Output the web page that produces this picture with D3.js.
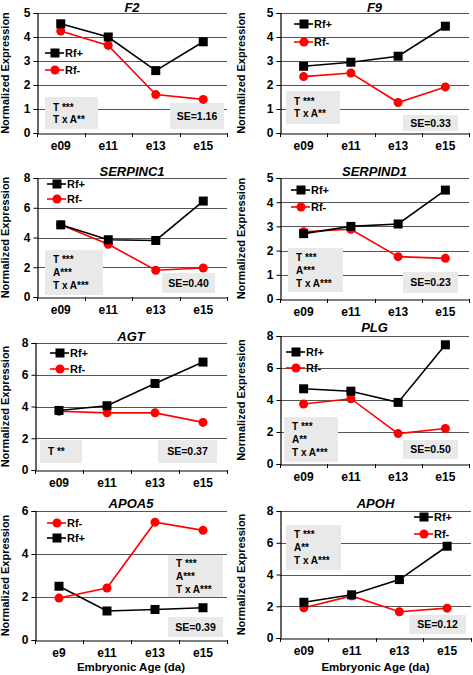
<!DOCTYPE html>
<html><head><meta charset="utf-8">
<script src="https://cdn.jsdelivr.net/npm/d3@7"></script>
<style>
html,body{margin:0;padding:0;background:#fff;}
svg{display:block;font-family:"Liberation Sans",Arial,sans-serif;}
</style></head>
<body>
<svg id="chart" width="473" height="675"></svg>
<script>
// ---- data ----
const categories = ["e09", "e11", "e13", "e15"];
const categoriesAPOA5 = ["e9", "e11", "e13", "e15"];
const seriesNames = ["Rf+", "Rf-"];

const f2RfPlus = [4.55, 4.0, 2.6, 3.8];
const f2RfMinus = [4.25, 3.65, 1.6, 1.4];
const f9RfPlus = [2.78, 2.95, 3.2, 4.45];
const f9RfMinus = [2.35, 2.5, 1.27, 1.92];
const serpinc1RfPlus = [4.85, 3.85, 3.8, 6.45];
const serpinc1RfMinus = [4.85, 3.55, 1.8, 1.95];
const serpind1RfPlus = [2.7, 3.0, 3.1, 4.5];
const serpind1RfMinus = [2.78, 2.88, 1.75, 1.68];
const agtRfPlus = [3.75, 4.05, 5.45, 6.8];
const agtRfMinus = [3.7, 3.6, 3.6, 3.0];
const plgRfPlus = [4.7, 4.55, 3.85, 7.45];
const plgRfMinus = [3.75, 4.08, 1.9, 2.22];
const apoa5RfPlus = [2.5, 1.35, 1.42, 1.5];
const apoa5RfMinus = [1.95, 2.42, 5.48, 5.1];
const apohRfPlus = [2.25, 2.72, 3.68, 5.78];
const apohRfMinus = [1.9, 2.65, 1.65, 1.88];

const ticks5 = [0, 1, 2, 3, 4, 5];
const ticks8 = [0, 2, 4, 6, 8];
const ticks6 = [0, 2, 4, 6];

const statsF2 = ["T ***", "T x A**"];
const statsF9 = ["T ***", "T x A**"];
const statsSERPINC1 = ["T ***", "A***", "T x A***"];
const statsSERPIND1 = ["T ***", "A***", "T x A***"];
const statsAGT = ["T **"];
const statsPLG = ["T ***", "A**", "T x A***"];
const statsAPOA5 = ["T ***", "A***", "T x A***"];
const statsAPOH = ["T ***", "A**", "T x A***"];

const seF2 = "SE=1.16", seF9 = "SE=0.33", seSERPINC1 = "SE=0.40", seSERPIND1 = "SE=0.23";
const seAGT = "SE=0.37", sePLG = "SE=0.50", seAPOA5 = "SE=0.39", seAPOH = "SE=0.12";

// ---- layout (positions/styles) ----
const panels = [
  {title:"F2", cats:categories, plus:f2RfPlus, minus:f2RfMinus, ticks:ticks5, stats:statsF2, se:seF2,
   x0:37, x1:227, yTop:13, yBot:133, titleY:12,
   legend:{x:45, y:[53,70], order:["Rf+","Rf-"]},
   statBox:[45,97,53,32], seBox:[170,103,54,26]},
  {title:"F9", cats:categories, plus:f9RfPlus, minus:f9RfMinus, ticks:ticks5, stats:statsF9, se:seF9,
   x0:280, x1:469, yTop:13, yBot:133, titleY:12,
   legend:{x:294, y:[24,42], order:["Rf+","Rf-"]},
   statBox:[286,91,54,33], seBox:[403,115,55,16]},
  {title:"SERPINC1", cats:categories, plus:serpinc1RfPlus, minus:serpinc1RfMinus, ticks:ticks8, stats:statsSERPINC1, se:seSERPINC1,
   x0:37, x1:227, yTop:178, yBot:297, titleY:176,
   legend:{x:47, y:[184,199], order:["Rf+","Rf-"]},
   statBox:[45,250,58,45], seBox:[162,273,53,20]},
  {title:"SERPIND1", cats:categories, plus:serpind1RfPlus, minus:serpind1RfMinus, ticks:ticks5, stats:statsSERPIND1, se:seSERPIND1,
   x0:280, x1:469, yTop:178, yBot:299, titleY:176,
   legend:{x:291, y:[190,207], order:["Rf+","Rf-"]},
   statBox:[288,248,55,44], seBox:[403,272,55,21]},
  {title:"AGT", cats:categories, plus:agtRfPlus, minus:agtRfMinus, ticks:ticks8, stats:statsAGT, se:seAGT,
   x0:35, x1:227, yTop:343, yBot:470, titleY:341,
   legend:{x:50, y:[353,369], order:["Rf+","Rf-"]},
   statBox:[40,440,42,23], seBox:[158,440,59,23]},
  {title:"PLG", cats:categories, plus:plgRfPlus, minus:plgRfMinus, ticks:ticks8, stats:statsPLG, se:sePLG,
   x0:280, x1:469, yTop:336, yBot:464, titleY:332,
   legend:{x:286, y:[352,368], order:["Rf+","Rf-"]},
   statBox:[284,417,54,45], seBox:[403,440,55,19]},
  {title:"APOA5", cats:categoriesAPOA5, plus:apoa5RfPlus, minus:apoa5RfMinus, ticks:ticks6, stats:statsAPOA5, se:seAPOA5,
   x0:35, x1:227, yTop:511, yBot:640, titleY:508, xTitle:true,
   legend:{x:47, y:[523,538], order:["Rf-","Rf+"]},
   statBox:[168,555,55,42], seBox:[168,617,55,20]},
  {title:"APOH", cats:categories, plus:apohRfPlus, minus:apohRfMinus, ticks:ticks8, stats:statsAPOH, se:seAPOH,
   x0:280, x1:471, yTop:511, yBot:638, titleY:508, xTitle:true,
   legend:{x:414, y:[517,534], order:["Rf+","Rf-"]},
   statBox:[286,525,55,45], seBox:[409,615,57,19]}
];

const RED = "#ff0000", BLACK = "#000000", GRID = "#555555", BOXFILL = "#e9e9e9";

const svg = d3.select("#chart");

function drawMarker(g, name, cx, cy) {
  if (name === "Rf+") {
    g.append("rect").attr("x", cx - 4.5).attr("y", cy - 4.5).attr("width", 9).attr("height", 9).attr("fill", BLACK);
  } else {
    g.append("circle").attr("cx", cx).attr("cy", cy).attr("r", 4.5).attr("fill", RED);
  }
}

panels.forEach(p => {
  const g = svg.append("g");
  const yMax = d3.max(p.ticks);
  const x = d3.scaleBand().domain(p.cats).range([p.x0, p.x1]).padding(0);
  const y = d3.scaleLinear().domain([0, yMax]).range([p.yBot, p.yTop]);

  // grid lines
  g.append("g").selectAll("line").data(p.ticks.filter(t => t > 0)).join("line")
    .attr("x1", p.x0).attr("x2", p.x1)
    .attr("y1", d => Math.round(y(d)) + 0.5).attr("y2", d => Math.round(y(d)) + 0.5)
    .attr("stroke", GRID).attr("stroke-width", 1);

  // stats box
  const sb = p.statBox;
  g.append("rect").attr("x", sb[0]).attr("y", sb[1]).attr("width", sb[2]).attr("height", sb[3]).attr("fill", BOXFILL);
  const lineH = p.stats.length === 1 ? 0 : (p.stats.length === 2 ? 12 : 13);
  const startY = sb[1] + sb[3] / 2 - lineH * (p.stats.length - 1) / 2;
  p.stats.forEach((s, i) => {
    g.append("text").attr("x", sb[0] + 8).attr("y", startY + i * lineH)
      .attr("dy", "0.35em").attr("font-size", 10).attr("font-weight", "bold").text(s);
  });
  // SE box
  const eb = p.seBox;
  g.append("rect").attr("x", eb[0]).attr("y", eb[1]).attr("width", eb[2]).attr("height", eb[3]).attr("fill", BOXFILL);
  g.append("text").attr("x", eb[0] + eb[2] / 2).attr("y", eb[1] + eb[3] / 2).attr("dy", "0.35em")
    .attr("text-anchor", "middle").attr("font-size", 10.5).attr("font-weight", "bold").text(p.se);

  // y axis
  const yAxis = d3.axisLeft(y).tickValues(p.ticks).tickSize(4).tickPadding(3).tickFormat(d3.format("d"));
  const ya = g.append("g").attr("transform", `translate(${p.x0 + 0.5},0)`).call(yAxis);
  ya.select(".domain").attr("stroke", BLACK).attr("stroke-width", 1.2);
  ya.selectAll(".tick text").attr("font-size", 12).attr("font-weight", "bold").attr("font-family", "Liberation Sans, Arial, sans-serif").attr("fill", BLACK);
  ya.selectAll(".tick line").attr("stroke", BLACK);

  // x axis (labels only), boundary ticks drawn from scale
  const xAxis = d3.axisBottom(x).tickSize(0).tickPadding(8);
  const xa = g.append("g").attr("transform", `translate(0,${p.yBot + 0.5})`).call(xAxis);
  xa.select(".domain").attr("stroke", BLACK).attr("stroke-width", 1.2);
  xa.selectAll(".tick text").attr("font-size", 12).attr("font-weight", "bold").attr("font-family", "Liberation Sans, Arial, sans-serif").attr("fill", BLACK);
  const bounds = p.cats.map(c => x(c)).concat([x.range()[1]]);
  g.append("g").selectAll("line").data(bounds).join("line")
    .attr("x1", d => Math.round(d) + 0.5).attr("x2", d => Math.round(d) + 0.5)
    .attr("y1", p.yBot).attr("y2", p.yBot + 4).attr("stroke", BLACK);

  // y axis title
  g.append("text").attr("transform", `translate(${p.x0 < 100 ? 5.5 : 241},${(p.yTop + p.yBot) / 2}) rotate(-90)`)
    .attr("text-anchor", "middle").attr("dy", "0.35em").attr("font-size", 11).attr("font-weight", "bold")
    .text("Normalized Expression");

  // title
  g.append("text").attr("x", (p.x0 + p.x1) / 2).attr("y", p.titleY)
    .attr("text-anchor", "middle").attr("font-size", 13).attr("font-weight", "bold").attr("font-style", "italic")
    .text(p.title);

  if (p.xTitle) {
    g.append("text").attr("x", (p.x0 + p.x1) / 2).attr("y", 671)
      .attr("text-anchor", "middle").attr("font-size", 11.5).attr("font-weight", "bold")
      .text("Embryonic Age (da)");
  }

  // series lines
  const line = d3.line().x((d, i) => x(p.cats[i]) + x.bandwidth() / 2).y(d => y(d));
  const series = [{name:"Rf+", values:p.plus, color:BLACK}, {name:"Rf-", values:p.minus, color:RED}];
  const order = p.title === "APOA5" ? [series[0], series[1]] : [series[1], series[0]];
  order.forEach(s => {
    g.append("path").datum(s.values).attr("d", line).attr("fill", "none")
      .attr("stroke", s.color).attr("stroke-width", 1.6);
    s.values.forEach((v, i) => drawMarker(g, s.name, x(p.cats[i]) + x.bandwidth() / 2, y(v)));
  });

  // legend
  p.legend.order.forEach((name, i) => {
    const ly = p.legend.y[i];
    const col = name === "Rf+" ? BLACK : RED;
    g.append("line").attr("x1", p.legend.x).attr("x2", p.legend.x + 19).attr("y1", ly).attr("y2", ly)
      .attr("stroke", col).attr("stroke-width", 1.6);
    drawMarker(g, name, p.legend.x + 10, ly);
    g.append("text").attr("x", p.legend.x + 20).attr("y", ly).attr("dy", "0.35em")
      .attr("font-size", 11).attr("font-weight", "bold").text(name);
  });
});
</script>
</body></html>
